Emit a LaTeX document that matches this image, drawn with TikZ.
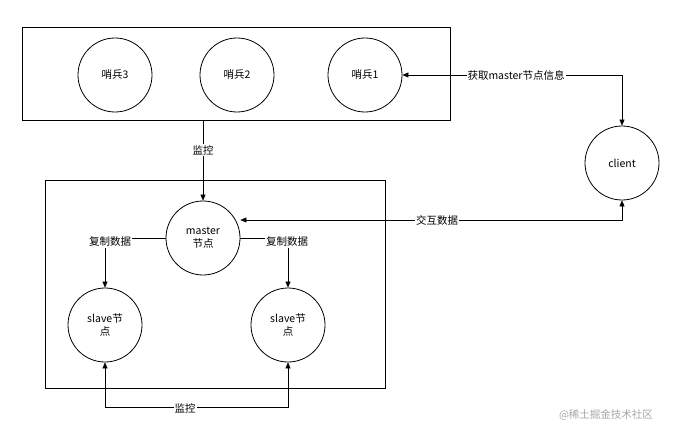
\documentclass[tikz,border=0pt]{standalone}
\usepackage{fontspec}
\newfontfamily\cjk{Noto Sans CJK SC}
\usetikzlibrary{arrows.meta}
\begin{document}
\begin{tikzpicture}[x=1pt,y=-1pt,font=\cjk\fontsize{10.5}{12.5}\selectfont,
  circ/.style={draw,thick,circle,minimum size=74pt,inner sep=0pt,align=center},
  box/.style={draw,thick},
  conn/.style={draw,-{Triangle[length=6pt,width=5pt]}},
  lab/.style={fill=white,inner sep=1pt}]
\useasboundingbox (0,0) rectangle (682,433);
\draw[box] (22,27) rectangle (450,120);
\draw[box] (45,180) rectangle (385,388);
\coordinate (tb) at (203,120);
\node[circ] (s3) at (115,75) {哨兵3};
\node[circ] (s2) at (237,75) {哨兵2};
\node[circ] (s1) at (365,75) {哨兵1};
\node[circ] (cl) at (622,163) {client};
\node[circ] (m) at (203,238) {master\\节点};
\node[circ] (sl) at (105,325) {slave节\\点};
\node[circ] (sr) at (288,325) {slave节\\点};
\draw[{Triangle[length=6pt,width=5pt]}-{Triangle[length=6pt,width=5pt]}] (s1.east) -- (622,75) -- (cl.north);
\node[lab] at (516,75) {获取master节点信息};
\draw[conn] (tb) -- (m.north);
\node[lab] at (203,150) {监控};
\draw[{Triangle[length=6pt,width=5pt]}-{Triangle[length=6pt,width=5pt]}] (cl.south) -- (622,220) -- (m.east |- 0,220);
\node[lab] at (437,220) {交互数据};
\draw[conn] (m.west) -- (105,238) -- (sl.north);
\node[lab] at (110,242) {复制数据};
\draw[conn] (m.east |- 0,238) -- (288,238) -- (sr.north);
\node[lab] at (287,242) {复制数据};
\draw[{Triangle[length=6pt,width=5pt]}-{Triangle[length=6pt,width=5pt]}] (sl.south) -- (105,407) -- (288,407) -- (sr.south);
\node[lab] at (185,408) {监控};
\node[text=gray!70] at (606,415) {@稀土掘金技术社区};
\end{tikzpicture}
\end{document}
